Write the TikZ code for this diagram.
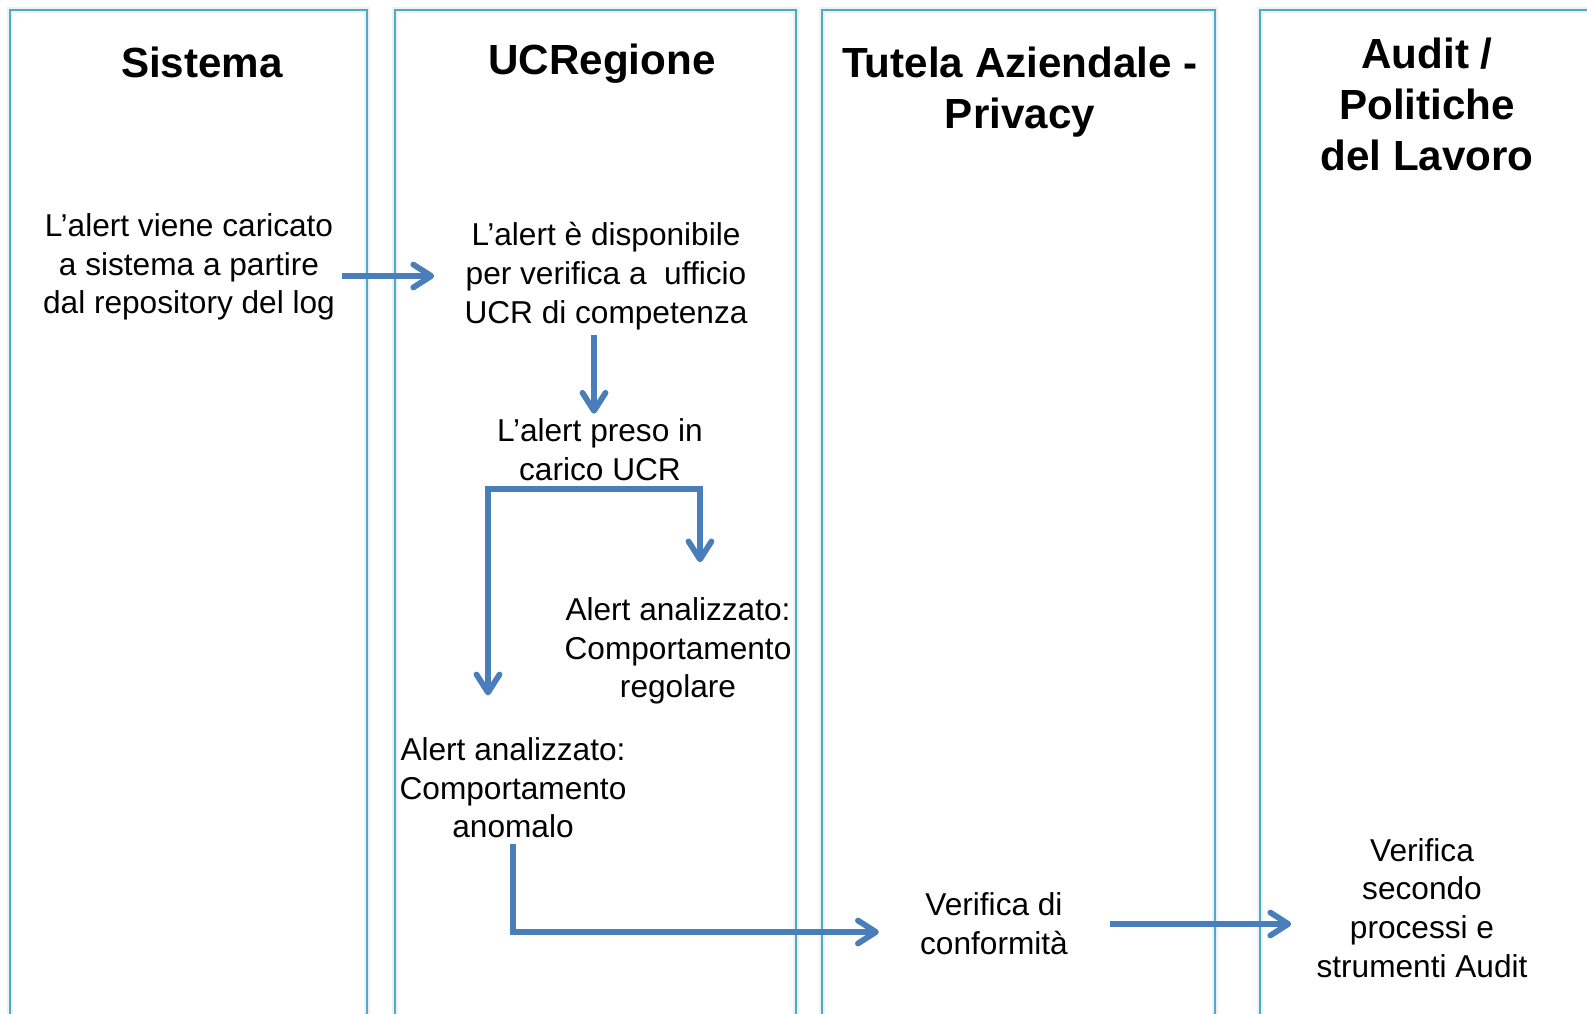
\documentclass[tikz,border=0pt]{standalone}
\usepackage{fontspec}
\setmainfont{Liberation Sans}
\usepackage{xcolor}
\usetikzlibrary{arrows.meta}

\definecolor{lanecol}{HTML}{4BACC6}
\definecolor{flowcol}{HTML}{4A7EBB}

\tikzset{
  barb/.tip={Straight Barb[length=0.36cm, width=0.46cm, round]},
  lane/.style={draw=lanecol, line width=0.9pt,
    preaction={draw=black, draw opacity=0.06, line width=3pt}},
  title/.style={font=\fontsize{24}{29}\selectfont\bfseries, align=center},
  step box/.style={font=\fontsize{18}{22}\selectfont, align=center, inner sep=0.1cm},
  flow/.style={draw=flowcol, line width=3.3pt, -barb}
}

\begin{document}
\begin{tikzpicture}[x=0.02cm, y=-0.02cm]
  \useasboundingbox (0,0) rectangle (1587,1014);

  \draw[lane] (10,1030) |- (367,10) -- (367,1030);
  \draw[lane] (395,1030) |- (796,10) -- (796,1030);
  \draw[lane] (822,1030) |- (1215,10) -- (1215,1030);
  \draw[lane] (1260,1030) |- (1630,10);

  \node[title] (tSistema) at (202,62) {Sistema};
  \node[title] (tUCRegione) at (602,64) {UCRegione};
  \node[title] (tTutela) at (1020,92) {Tutela Aziendale -\\Privacy};
  \node[title] (tAudit) at (1427,104) {Audit /\\Politiche\\del Lavoro};

  \node[step box] (caricato) at (189,267) {L’alert viene caricato\\a sistema a partire\\dal repository del log};
  \node[step box] (disponibile) at (606,276) {L’alert è disponibile\\per verifica a~ ufficio\\UCR di competenza};
  \node[step box] (presoincarico) at (600,450) {L’alert preso in\\carico UCR};
  \node[step box] (regolare) at (678,651) {Alert analizzato:\\Comportamento\\regolare};
  \node[step box] (anomalo) at (513,788) {Alert analizzato:\\Comportamento\\anomalo};
  \node[step box] (conformita) at (994,924) {Verifica di\\conformità};
  \node[step box] (audit) at (1422,908) {Verifica\\secondo\\processi e\\strumenti Audit};

  \draw[flow, shorten <=0.04cm, shorten >=0.5cm] (caricato.east |- disponibile) -- (disponibile.west);
  \draw[flow] ([xshift=-0.12cm]disponibile.south -| presoincarico.north) -- ([xshift=-0.12cm]presoincarico.north);
  \draw[flow, barb-barb, shorten <=0.74cm, shorten >=0.6cm]
    ([xshift=-0.5cm]anomalo.north) |- ([yshift=-0.06cm]presoincarico.south) -| ([xshift=0.44cm]regolare.north);
  \draw[flow, shorten >=0.72cm] (anomalo.south) |- ([yshift=-0.16cm]conformita.west);
  \draw[flow, shorten <=0.74cm, shorten >=0.4cm] (conformita.east) -- (conformita.east -| audit.west);
\end{tikzpicture}
\end{document}
